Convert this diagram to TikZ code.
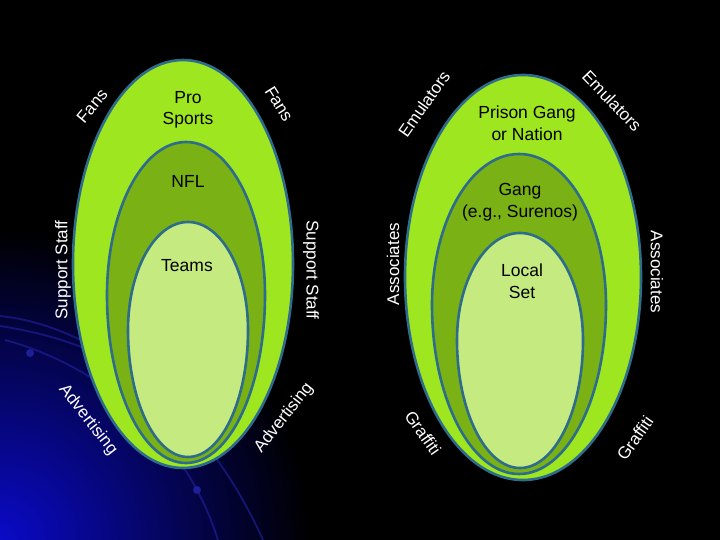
\documentclass[tikz,border=0pt]{standalone}
\usepackage{fontspec}
\setmainfont{Liberation Sans}
\usepackage{xcolor}
\usepackage{tikz}
\usetikzlibrary{positioning}
\definecolor{ringBright}{RGB}{158,230,32}
\definecolor{ringDark}{RGB}{122,178,22}
\definecolor{ringLight}{RGB}{196,234,128}
\definecolor{rimBlue}{RGB}{45,108,140}
\definecolor{glowBlue}{RGB}{10,10,200}
\definecolor{arcBlue}{RGB}{30,30,150}
\tikzset{
    ring/.style={draw=rimBlue, line width=2.6pt},
    outerRing/.style={ring, fill=ringBright},
    midRing/.style={ring, fill=ringDark},
    innerRing/.style={ring, fill=ringLight},
    inside/.style={align=center, text=black, font=\fontsize{17.5}{21.5}\selectfont, inner sep=0pt},
    rim/.style={text=white, font=\fontsize{17}{20}\selectfont, inner sep=0pt},
    deco/.style={draw=arcBlue, line width=1.8pt, opacity=0.7}
}
% egg shaped ring: style, centre x, widest y, half width, top and bottom reach
\newcommand{\eggring}[6]{%
    \draw[#1] (#2-#4,#3)
        arc[start angle=180, end angle=0, x radius=#4pt, y radius=#5pt]
        arc[start angle=0, end angle=-180, x radius=#4pt, y radius=#6pt] -- cycle;}

\begin{document}
\begin{tikzpicture}[x=1pt, y=-1pt]
        % Background
        \useasboundingbox (0,0) rectangle (720,540);
        \fill[black] (0,0) rectangle (720,540);
        \begin{scope}
            \clip (0,0) rectangle (720,540);
            \shade[inner color=glowBlue, outer color=black] (0,540) circle (310pt);
            \draw[deco] (0,316) .. controls (90,325) and (200,400) .. (263,540);
            \draw[deco] (5,340) .. controls (80,360) and (180,420) .. (218,540);
            \draw[deco] (0,326) .. controls (60,335) and (110,355) .. (140,380);
            \fill[arcBlue] (30,353) circle (4pt) (197,490) circle (4pt);
        \end{scope}

        % Pro sports rings
        \eggring{outerRing}{183}{264}{110}{204}{204}
        \eggring{midRing}{186}{295}{79}{153}{168}
        \eggring{innerRing}{188}{330}{60}{108}{127}

        % Gang rings
        \eggring{outerRing}{523}{277}{118}{202}{203}
        \eggring{midRing}{519}{305}{87}{151}{169}
        \eggring{innerRing}{520}{340}{63}{107}{128}

        % Ring names
        \node[inside] (ProSports) at (188,110) {Pro\\Sports};
        \node[inside] (NFL) at (188,181) {NFL};
        \node[inside] (Teams) at (187,266) {Teams};
        \node[inside] (Prison) at (527,123) {Prison Gang\\or Nation};
        \node[inside] (Gang) at (520,202) {Gang\\(e.g., Surenos)};
        \node[inside] (Local) at (522,281) {Local\\Set};

        % Labels round the left rings
        \node[rim, rotate=50] (FansL) at (92,106) {Fans};
        \node[rim, rotate=-58] (FansR) at (279,104) {Fans};
        \node[rim, rotate=90] (StaffL) at (63,270) {Support Staff};
        \node[rim, rotate=-90] (StaffR) at (311,270) {Support Staff};
        \node[rim, rotate=-52] (AdvL) at (88,420) {Advertising};
        \node[rim, rotate=52] (AdvR) at (284,418) {Advertising};

        % Labels round the right rings
        \node[rim, rotate=55] (EmuL) at (424,104) {Emulators};
        \node[rim, rotate=-46] (EmuR) at (612,101) {Emulators};
        \node[rim, rotate=90] (AssocL) at (393,264) {Associates};
        \node[rim, rotate=-90] (AssocR) at (657,272) {Associates};
        \node[rim, rotate=-55] (GrafL) at (423,433) {Graffiti};
        \node[rim, rotate=55] (GrafR) at (635,438) {Graffiti};
    \end{tikzpicture}
\end{document}
